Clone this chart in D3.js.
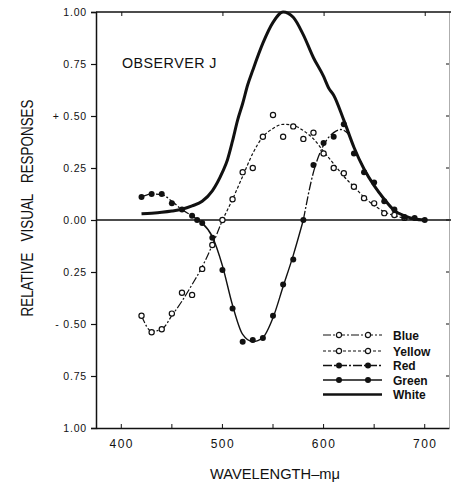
<!DOCTYPE html>
<html><head><meta charset="utf-8">
<script src="https://cdn.jsdelivr.net/npm/d3@7/dist/d3.min.js"></script>
<style>
html,body{margin:0;padding:0;background:#fff;}
text{font-family:"Liberation Sans",Arial,sans-serif;fill:#111;}
</style></head>
<body>
<svg id="chart" width="451" height="487"></svg>
<script>
// ---- data ----
const xTicks = [400, 500, 600, 700];
const xMinorTicks = [400, 450, 500, 550, 600, 650, 700];
const yTickValues = [1, 0.75, 0.5, 0.25, 0, -0.25, -0.5, -0.75, -1];
const yTickLabels = ["1.00", "0.75", "+ 0.50", "0.25", "0.00", "0.25", "- 0.50", "0.75", "1.00"];

// measured points
const blueWl  = [420, 430, 440, 450, 460, 470, 480, 490, 500];
const blueVal = [-0.46, -0.54, -0.525, -0.45, -0.35, -0.36, -0.235, -0.12, 0.0];
const yellowWl  = [510, 520, 530, 540, 550, 560, 570, 580, 590, 600, 610, 620, 630, 640, 650, 660, 670, 680];
const yellowVal = [0.10, 0.23, 0.25, 0.40, 0.505, 0.40, 0.45, 0.39, 0.42, 0.32, 0.25, 0.225, 0.16, 0.105, 0.08, 0.033, 0.024, 0.01];
const redWl  = [420, 430, 440, 450, 460, 470, 475, 590, 600, 610, 620, 630, 640, 650, 660, 670, 680, 690, 700];
const redVal = [0.11, 0.125, 0.125, 0.08, 0.05, 0.02, 0.0, 0.265, 0.37, 0.40, 0.46, 0.32, 0.23, 0.18, 0.09, 0.05, 0.015, 0.01, 0.0];
const greenWl  = [480, 490, 500, 510, 520, 530, 540, 550, 560, 570, 580];
const greenVal = [-0.015, -0.085, -0.24, -0.425, -0.585, -0.577, -0.567, -0.46, -0.31, -0.19, 0.0];

// fitted curves
const blueCurveWl  = [420, 430, 440, 450, 460, 470, 480, 490, 500];
const blueCurveVal = [-0.46, -0.535, -0.525, -0.46, -0.39, -0.31, -0.225, -0.12, 0.0];
const yellowCurveWl  = [500, 510, 520, 530, 540, 550, 560, 570, 580, 590, 600, 610, 620, 630, 640, 650, 660, 670, 680, 690];
const yellowCurveVal = [0.0, 0.10, 0.21, 0.32, 0.40, 0.44, 0.46, 0.455, 0.43, 0.39, 0.33, 0.27, 0.21, 0.16, 0.11, 0.07, 0.04, 0.02, 0.01, 0.0];
const redLeftCurveWl  = [420, 430, 440, 450, 460, 470, 476];
const redLeftCurveVal = [0.11, 0.125, 0.122, 0.09, 0.05, 0.02, 0.0];
const greenCurveWl  = [476, 480, 490, 500, 510, 520, 530, 540, 550, 560, 570, 580];
const greenCurveVal = [0.0, -0.015, -0.08, -0.22, -0.41, -0.55, -0.585, -0.565, -0.47, -0.32, -0.17, 0.0];
const redRightCurveWl  = [580, 590, 600, 610, 617, 625, 630, 640, 650, 660, 670, 680, 690, 700];
const redRightCurveVal = [0.0, 0.23, 0.36, 0.42, 0.435, 0.41, 0.35, 0.25, 0.165, 0.095, 0.05, 0.02, 0.005, 0.0];
const whiteWl  = [420, 430, 440, 450, 460, 470, 480, 490, 500, 505, 510, 515, 520, 525, 530, 540, 550, 560, 570, 580, 590, 600, 605, 610, 620, 630, 640, 650, 660, 670, 680, 690, 700];
const whiteVal = [0.03, 0.033, 0.037, 0.043, 0.052, 0.068, 0.09, 0.14, 0.23, 0.29, 0.38, 0.48, 0.56, 0.65, 0.72, 0.85, 0.95, 1.0, 0.975, 0.89, 0.78, 0.69, 0.635, 0.60, 0.48, 0.35, 0.245, 0.165, 0.10, 0.045, 0.02, 0.005, 0.0];

const legendNames = ["Blue", "Yellow", "Red", "Green", "White"];

// ---- layout ----
const svg = d3.select("#chart");
svg.append("rect").attr("width", 451).attr("height", 487).attr("fill", "#fff");
const xs = d3.scaleLinear().domain([375, 724]).range([96, 449]);
const ys = d3.scaleLinear().domain([-1, 1]).range([428, 12]);
const ink = "#111";

const zip = (a, b) => a.map((v, i) => [v, b[i]]);
const lineGen = d3.line().x(d => xs(d[0])).y(d => ys(d[1])).curve(d3.curveMonotoneX);

// faint right border
svg.append("line").attr("x1", 449.5).attr("x2", 449.5).attr("y1", ys(1)).attr("y2", ys(-1))
  .attr("stroke", "#999").attr("stroke-width", 0.8);

// axes
const leftAx = svg.append("g").attr("transform", `translate(${xs(375)},0)`)
  .call(d3.axisLeft(ys).tickValues(yTickValues).tickSize(5).tickFormat((d, i) => yTickLabels[i]).tickPadding(4));
leftAx.select(".domain").attr("stroke", ink).attr("stroke-width", 1.5);
leftAx.selectAll(".tick line").attr("stroke", ink).attr("stroke-width", 1.2);
leftAx.selectAll(".tick text").attr("font-size", 10.5).attr("letter-spacing", 0.8).attr("fill", ink)
  .attr("font-family", "Liberation Sans, Arial, sans-serif");

const bottomAx = svg.append("g").attr("transform", `translate(0,${ys(-1)})`)
  .call(d3.axisBottom(xs).tickValues(xTicks).tickSize(0).tickPadding(11).tickFormat(d3.format("d")));
bottomAx.select(".domain").attr("stroke", ink).attr("stroke-width", 1.5);
bottomAx.selectAll(".tick text").attr("font-size", 12).attr("letter-spacing", 1.5).attr("fill", ink)
  .attr("font-family", "Liberation Sans, Arial, sans-serif");
// bottom inward minor ticks
svg.append("g").selectAll("line").data(xMinorTicks).join("line")
  .attr("x1", d => xs(d)).attr("x2", d => xs(d)).attr("y1", ys(-1)).attr("y2", ys(-1) - 4)
  .attr("stroke", ink).attr("stroke-width", 1);

// top border with inward ticks
const topAx = svg.append("g").attr("transform", `translate(0,${ys(1)})`)
  .call(d3.axisTop(xs).tickValues(xTicks).tickSize(-4).tickFormat(""));
topAx.select(".domain").attr("stroke", ink).attr("stroke-width", 1.5).attr("d", `M${xs(375)},0H451`);
topAx.selectAll(".tick line").attr("stroke", ink).attr("stroke-width", 1);

// right side inward ticks
svg.append("g").selectAll("line").data(yTickValues.filter(v => Math.abs(v) < 1)).join("line")
  .attr("x1", 449).attr("x2", 446).attr("y1", d => ys(d)).attr("y2", d => ys(d))
  .attr("stroke", ink).attr("stroke-width", 1);

// zero line
svg.append("line").attr("x1", xs(375)).attr("x2", 451).attr("y1", ys(0)).attr("y2", ys(0))
  .attr("stroke", ink).attr("stroke-width", 1.5);

// curves
const curves = [
  {wl: blueCurveWl, v: blueCurveVal, dash: "8,2,2,2", w: 1.2},
  {wl: yellowCurveWl, v: yellowCurveVal, dash: "3,2", w: 1.2},
  {wl: redLeftCurveWl, v: redLeftCurveVal, dash: "9,2,2,2", w: 1.3},
  {wl: greenCurveWl, v: greenCurveVal, dash: null, w: 1.4},
  {wl: redRightCurveWl, v: redRightCurveVal, dash: "9,2,2,2", w: 1.3},
  {wl: whiteWl, v: whiteVal, dash: null, w: 3}
];
svg.append("g").selectAll("path").data(curves).join("path")
  .attr("d", d => lineGen(zip(d.wl, d.v)))
  .attr("fill", "none").attr("stroke", ink)
  .attr("stroke-width", d => d.w)
  .attr("stroke-dasharray", d => d.dash)
  .attr("stroke-linejoin", "round");

// markers
const openPts = zip(blueWl, blueVal).concat(zip(yellowWl, yellowVal));
const filledPts = zip(redWl, redVal).concat(zip(greenWl, greenVal));
svg.append("g").selectAll("circle").data(openPts).join("circle")
  .attr("cx", d => xs(d[0])).attr("cy", d => ys(d[1])).attr("r", 2.6)
  .attr("fill", "#fff").attr("stroke", ink).attr("stroke-width", 1.2);
svg.append("g").selectAll("circle").data(filledPts).join("circle")
  .attr("cx", d => xs(d[0])).attr("cy", d => ys(d[1])).attr("r", 3)
  .attr("fill", ink);

// title inside plot
svg.append("text").attr("x", 122).attr("y", 68).attr("font-size", 15).attr("letter-spacing", 0.5)
  .attr("textLength", 95).attr("lengthAdjust", "spacingAndGlyphs").text("OBSERVER J");

// axis titles
svg.append("text").attr("transform", "translate(33,208) rotate(-90)")
  .attr("text-anchor", "middle").attr("font-size", 17)
  .attr("textLength", 217).attr("lengthAdjust", "spacingAndGlyphs")
  .attr("xml:space", "preserve")
  .text("RELATIVE   VISUAL   RESPONSES");
svg.append("text").attr("x", 275).attr("y", 479).attr("text-anchor", "middle").attr("font-size", 15)
  .attr("textLength", 130).attr("lengthAdjust", "spacingAndGlyphs")
  .text("WAVELENGTH\u2013m\u03bc");

// legend
const legendY = [335, 351, 365.5, 380, 394.5];
const legendStyles = [
  {dash: "8,2,2,2", marker: "open", w: 1.2},
  {dash: "3,2", marker: "open", w: 1.2},
  {dash: "9,2,2,2", marker: "filled", w: 1.3},
  {dash: null, marker: "filled", w: 1.4},
  {dash: null, marker: null, w: 2.6}
];
const lg = svg.append("g").selectAll("g").data(legendNames).join("g")
  .attr("transform", (d, i) => `translate(0,${legendY[i]})`);
lg.append("line").attr("x1", 323).attr("x2", 382).attr("y1", 0).attr("y2", 0)
  .attr("stroke", ink).attr("stroke-width", (d, i) => legendStyles[i].w)
  .attr("stroke-dasharray", (d, i) => legendStyles[i].dash);
lg.each(function(d, i) {
  const st = legendStyles[i];
  if (!st.marker) return;
  d3.select(this).selectAll("circle").data([339, 368]).join("circle")
    .attr("cx", c => c).attr("cy", 0).attr("r", st.marker === "open" ? 2.6 : 3)
    .attr("fill", st.marker === "open" ? "#fff" : ink)
    .attr("stroke", ink).attr("stroke-width", st.marker === "open" ? 1.2 : 0);
});
lg.append("text").attr("x", 393).attr("y", 4.5).attr("font-size", 12).attr("font-weight", "bold")
  .text(d => d);
</script>
</body></html>
